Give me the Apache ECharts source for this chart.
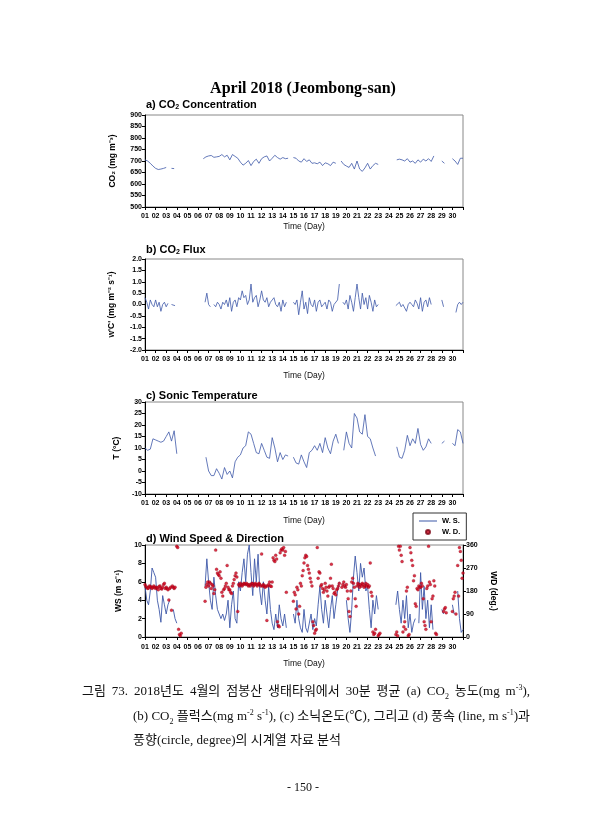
<!DOCTYPE html>
<html><head><meta charset="utf-8">
<script src="https://cdn.jsdelivr.net/npm/echarts@6/dist/echarts.min.js"></script>
<style>
html,body{margin:0;padding:0;background:#fff;}
#chart{position:absolute;left:0;top:0;width:606px;height:840px;}
.cap{position:absolute;font-family:'Liberation Serif','Noto Sans CJK KR',serif;font-size:13px;color:#111;white-space:nowrap;line-height:16px;}
.cap sub,.cap sup{font-size:8px;line-height:0;}
</style></head><body>
<div id="chart"></div>
<div class="cap" style="left:82px;top:683px;width:448px;text-align:justify;text-align-last:justify;">그림 73. 2018년도 4월의 점봉산 생태타워에서 30분 평균 (a) CO<sub>2</sub> 농도(mg m<sup>-3</sup>),</div>
<div class="cap" style="left:133px;top:708px;width:397px;text-align:justify;text-align-last:justify;">(b) CO<sub>2</sub> 플럭스(mg m<sup>-2</sup> s<sup>-1</sup>), (c) 소닉온도(℃), 그리고 (d) 풍속 (line, m s<sup>-1</sup>)과</div>
<div class="cap" style="left:133px;top:732px;">풍향(circle, degree)의 시계열 자료 분석</div>
<div class="cap" style="left:0;top:779px;width:606px;text-align:center;font-size:12px;">- 150 -</div>
<script>
// ---- data (one row per day) ----
const dayLabels = ['01','02','03','04','05','06','07','08','09','10','11','12','13','14','15','16','17','18','19','20','21','22','23','24','25','26','27','28','29','30'];

// CO2 concentration, 4 values per day (every 6 h), mg m-3
const co2PerDay = 4;
const co2 = [
  705,700,690,678,  668,663,665,668,  672,null,668,667,  null,null,null,null,
  null,null,null,null,  null,null,710,718,  722,724,716,718,  720,728,718,725,
  705,728,720,712,  695,682,690,702,  680,698,708,690,  710,718,722,700,
  712,725,715,708,  715,710,712,null,  715,712,700,695,  710,698,705,690,
  692,688,695,680,  692,688,680,695,  690,null,700,685,  678,672,690,665,
  700,665,655,670,  690,665,680,690,  685,null,null,null,  null,null,null,705,
  708,705,700,710,  695,700,690,705,  695,708,700,710,  698,722,null,null,
  700,690,null,null,  710,700,685,712,  712
];

// CO2 flux w'C', 6 values per day (every 4 h), mg m-2 s-1
const fluxPerDay = 6;
const flux = [
  0.3,0.1,-0.2,0.2,0.0,-0.1,   0.2,-0.1,0.1,-0.3,0.0,0.1,   -0.1,0.05,null,0.0,0.05,-0.05,
  null,null,null,null,null,null,   null,null,null,null,null,null,   null,null,null,null,0.1,0.5,
  0.0,-0.1,null,0.0,-0.1,0.1,   0.0,-0.2,0.1,0.0,0.2,-0.1,   0.3,-0.3,0.1,0.2,-0.1,0.3,
  0.2,0.6,0.3,0.4,0.0,0.2,   0.9,0.1,0.3,0.4,-0.1,0.2,   0.6,0.2,0.1,0.3,-0.1,0.1,
  0.2,0.3,0.0,-0.1,0.1,-0.3,   0.2,-0.1,0.1,null,null,null,   0.1,0.0,0.2,-0.45,0.1,0.6,
  -0.2,0.1,-0.4,0.3,0.0,-0.1,   0.2,-0.3,0.1,0.2,-0.1,0.0,   0.1,-0.2,0.2,0.1,-0.3,0.0,
  0.0,0.2,0.9,null,0.1,0.0,   0.2,-0.2,0.4,0.1,-0.3,0.3,   0.9,0.3,-0.2,0.5,0.0,0.3,
  -0.2,0.4,0.1,-0.3,0.2,-0.1,   0.0,null,null,null,null,null,   null,null,null,null,-0.05,0.0,
  0.1,-0.1,0.0,0.05,-0.3,0.0,   0.1,0.0,-0.1,0.2,0.05,-0.2,   0.3,-0.3,0.1,0.2,-0.1,0.3,
  0.0,null,null,null,null,null,   0.2,-0.1,null,null,null,null,   0.3,null,-0.35,0.0,0.1,0.0,
  0.1
];

// Sonic temperature, 4 values per day, deg C
const tempPerDay = 4;
const temp = [
  10,9,9.5,14,  13.5,13,12.5,13,  15,17,13,17.5,  7.5,null,null,null,
  null,null,null,null,  null,null,null,6,  0,-2,-2,1,  -1,-3.5,1.5,-1.5,
  0,-3,4,6,  7,10,11,17,  16,12,8,7.5,  12,9,6,5.5,
  14.5,10,4,8,  5,7,6.5,null,  6,3.5,3,7,  4,1.5,8,9,
  11,9,12,8,  14.5,10,7.5,13,  16,12,null,9,  17,12,10,25,
  23,17,16,24.5,  15,14,10,6.5,  null,null,null,null,  null,null,null,10.5,
  6,5.5,9,15.5,  11,14,12,18.5,  11.5,9,10.5,14,  12,null,null,null,
  12,13,null,null,  12,11,18,17,  12
];

// Wind speed, 6 values per day, m s-1
const wsPerDay = 6;
const ws = [
  5.5,4.0,3.5,5.0,7.5,7.0,   6.5,4.0,3.0,1.6,4.5,3.5,   2.5,3.5,4.0,null,3.0,2.0,
  1.5,null,null,null,null,null,   null,null,null,null,null,null,   null,null,null,null,5.5,8.5,
  6.0,4.0,3.0,6.5,4.5,3.0,   2.5,2.0,2.5,1.8,2.5,4.0,   1.0,3.5,5.0,2.0,1.5,6.0,
  5.0,7.0,8.5,6.0,9.0,10.0,   7.0,4.5,8.5,6.0,9.0,5.0,   3.5,6.0,4.0,2.5,5.5,3.0,
  1.5,0.8,2.5,1.0,3.5,2.0,   1.2,2.5,1.0,null,null,null,   2.5,1.5,4.0,2.0,1.0,0.5,
  3.0,1.0,0.5,0.3,2.5,0.8,   2.0,1.2,3.5,5.5,3.0,1.5,   4.0,2.5,1.0,3.0,4.5,2.0,
  3.5,5.0,6.0,null,4.0,null,   4.0,2.0,0.5,3.0,6.5,8.8,   7.0,5.0,8.0,6.5,7.5,5.0,
  5.5,3.0,1.0,4.0,2.5,4.5,   3.0,null,null,null,null,null,   null,null,null,null,3.5,5.0,
  3.0,1.5,4.0,2.0,4.5,1.0,   2.5,0.5,1.5,2.0,null,1.5,   7.0,3.0,5.5,2.0,4.0,1.0,
  3.5,0.8,null,null,null,null,   3.0,2.5,null,null,null,null,   3.5,2.5,null,5.0,2.0,0.5,
  0.8
];

// Wind direction, 12 values per day (every 2 h), degree
const wdPerDay = 12;
const wd = [
  205,198,195,190,192,200,198,195,190,195,200,195,
  190,195,192,185,198,200,190,188,195,205,210,190,
  195,190,185,145,190,195,105,200,195,190,195,null,
  355,350,30,10,5,15,null,null,null,null,null,null,
  null,null,null,null,null,null,null,null,null,null,null,null,
  null,null,null,null,null,null,null,null,140,195,205,215,
  200,215,210,190,205,200,170,185,340,265,250,245,
  240,255,230,175,160,185,190,200,210,280,195,185,
  185,175,170,200,210,225,240,250,235,100,205,200,
  210,205,200,205,210,208,205,210,205,200,205,200,
  205,210,208,200,205,210,205,200,205,210,205,200,
  325,200,205,200,195,200,65,200,205,215,200,198,
  215,310,300,295,320,305,60,45,40,330,340,345,
  340,350,320,335,175,null,null,null,null,null,null,null,
  140,175,165,110,195,185,90,120,210,200,240,260,
  290,310,320,315,280,265,250,230,215,200,60,45,
  15,25,30,350,230,255,250,200,205,190,175,185,
  210,195,180,160,195,200,230,285,200,190,170,175,
  165,185,190,200,210,null,null,195,205,215,200,195,
  205,180,150,100,80,180,215,230,210,195,150,120,
  200,210,205,195,205,200,210,205,195,200,210,200,
  205,195,200,290,175,160,20,10,15,30,null,null,
  5,10,15,null,null,null,null,null,null,null,null,null,
  null,null,null,null,null,null,null,null,10,20,5,355,
  340,355,320,295,20,40,60,30,180,195,5,10,
  350,330,300,280,220,240,130,120,190,185,200,195,
  195,210,200,150,60,45,30,190,200,355,215,205,
  60,150,160,220,200,15,10,null,null,null,null,null,
  null,null,100,110,115,95,null,null,null,null,null,null,
  100,150,160,175,90,null,280,160,350,335,300,230,
  250
];

// ---- build ----
function toXY(arr, perDay){ return arr.map((v,i)=>[1+i/perDay, v]); }

const SANS = "'Liberation Sans', Arial, sans-serif";
const BLUE = '#3d58a8';
const gridsTop = [115, 259, 402, 545];
const gridsH = [92, 91, 92, 92];
const nameGaps = [15, 21, 22, 22];
const labelMargins = [6, 6, 6, 7];

const grids = gridsTop.map((t,i)=>({left:145, width:318, top:t, height:gridsH[i], show:true, borderColor:'#888', borderWidth:1, backgroundColor:'transparent'}));

const xAxes = gridsTop.map((t,i)=>({
  type:'value', gridIndex:i, min:1, max:31, interval:1,
  name:'Time (Day)', nameLocation:'middle', nameGap:nameGaps[i],
  nameTextStyle:{fontFamily:SANS, fontSize:8.5, color:'#111'},
  axisLine:{show:true, onZero:false, lineStyle:{color:'#000', width:1}},
  axisTick:{show:true, length:3, lineStyle:{color:'#000'}},
  splitLine:{show:false},
  axisLabel:{fontFamily:SANS, fontSize:7, fontWeight:'bold', color:'#000', margin:labelMargins[i],
    formatter:(v)=> (v>=1 && v<=30 && Number.isInteger(v)) ? dayLabels[v-1] : ''}
}));

function yAx(i, min, max, interval, name, gap, fmt){
  return {type:'value', gridIndex:i, min, max, interval,
    name, nameLocation:'middle', nameGap:gap,
    nameTextStyle:{fontFamily:SANS, fontSize:8.5, fontWeight:'bold', color:'#000'},
    axisLine:{show:true, lineStyle:{color:'#000', width:1}},
    axisTick:{show:true, length:3, lineStyle:{color:'#000'}},
    splitLine:{show:false},
    axisLabel:{fontFamily:SANS, fontSize:7, fontWeight:'bold', color:'#000', margin:3, formatter:fmt}};
}
const yAxes = [
  yAx(0, 500, 900, 50, 'CO₂ (mg m⁻³)', 28, v=>String(v)),
  yAx(1, -2, 2, 0.5, "w'C' (mg m⁻² s⁻¹)", 29, v=>v.toFixed(1)),
  yAx(2, -10, 30, 5, 'T (°C)', 24, v=>String(v)),
  yAx(3, 0, 10, 2, 'WS (m s⁻¹)', 20, v=>String(v)),
  Object.assign(yAx(3, 0, 360, 90, 'WD (deg.)', 20, v=>String(v)), {position:'right', nameRotate:-90})
];

const lineStyle = {color:BLUE, width:0.8};
const series = [
  {type:'line', name:'CO2', xAxisIndex:0, yAxisIndex:0, data:toXY(co2, co2PerDay), showSymbol:false, connectNulls:false, lineStyle, itemStyle:{color:BLUE}},
  {type:'line', name:'Flux', xAxisIndex:1, yAxisIndex:1, data:toXY(flux, fluxPerDay), showSymbol:false, connectNulls:false, lineStyle, itemStyle:{color:BLUE}},
  {type:'line', name:'Temp', xAxisIndex:2, yAxisIndex:2, data:toXY(temp, tempPerDay), showSymbol:false, connectNulls:false, lineStyle, itemStyle:{color:BLUE}},
  {type:'line', name:'W. S.', xAxisIndex:3, yAxisIndex:3, data:toXY(ws, wsPerDay), showSymbol:false, connectNulls:false, lineStyle:{color:BLUE, width:0.9}, itemStyle:{color:BLUE}},
  {type:'scatter', name:'W. D.', xAxisIndex:3, yAxisIndex:4, data:toXY(wd, wdPerDay), symbolSize:3, itemStyle:{color:'#d0021b', borderColor:'#7a0010', borderWidth:0.3}, z:3}
];

const subRich = {s:{fontFamily:SANS, fontSize:7, fontWeight:'bold', padding:[5,0,0,0]}};
function panelTitle(txt, y){
  return {type:'text', left:146, top:y, style:{text:txt, rich:subRich, fontFamily:SANS, fontSize:11, fontWeight:'bold', fill:'#000'}};
}

const option = {
  backgroundColor:'#fff',
  animation:false,
  grid:grids, xAxis:xAxes, yAxis:yAxes, series,
  legend:{
    left:413, top:513, orient:'vertical', padding:[4,6,4,6], itemGap:3,
    itemWidth:18, itemHeight:4, borderColor:'#333', borderWidth:1, backgroundColor:'#fff',
    textStyle:{fontFamily:SANS, fontSize:7.5, fontWeight:'bold', color:'#000'},
    data:[
      {name:'W. S.', icon:'path://M0,1.6 L18,1.6 L18,2.4 L0,2.4 Z M0,0 L0.01,0 M0,4 L0.01,4'},
      {name:'W. D.', icon:'circle'}
    ]
  },
  graphic:[
    {type:'text', left:'center', top:81, style:{text:'April 2018 (Jeombong-san)', fontFamily:"'Liberation Serif', serif", fontSize:16, fontWeight:'bold', fill:'#000'}},
    panelTitle('a) CO{s|2} Concentration', 99),
    panelTitle('b) CO{s|2} Flux', 244),
    panelTitle('c) Sonic Temperature', 390),
    panelTitle('d) Wind Speed & Direction', 533)
  ]
};

const chart = echarts.init(document.getElementById('chart'));
chart.setOption(option);
</script>
</body></html>
